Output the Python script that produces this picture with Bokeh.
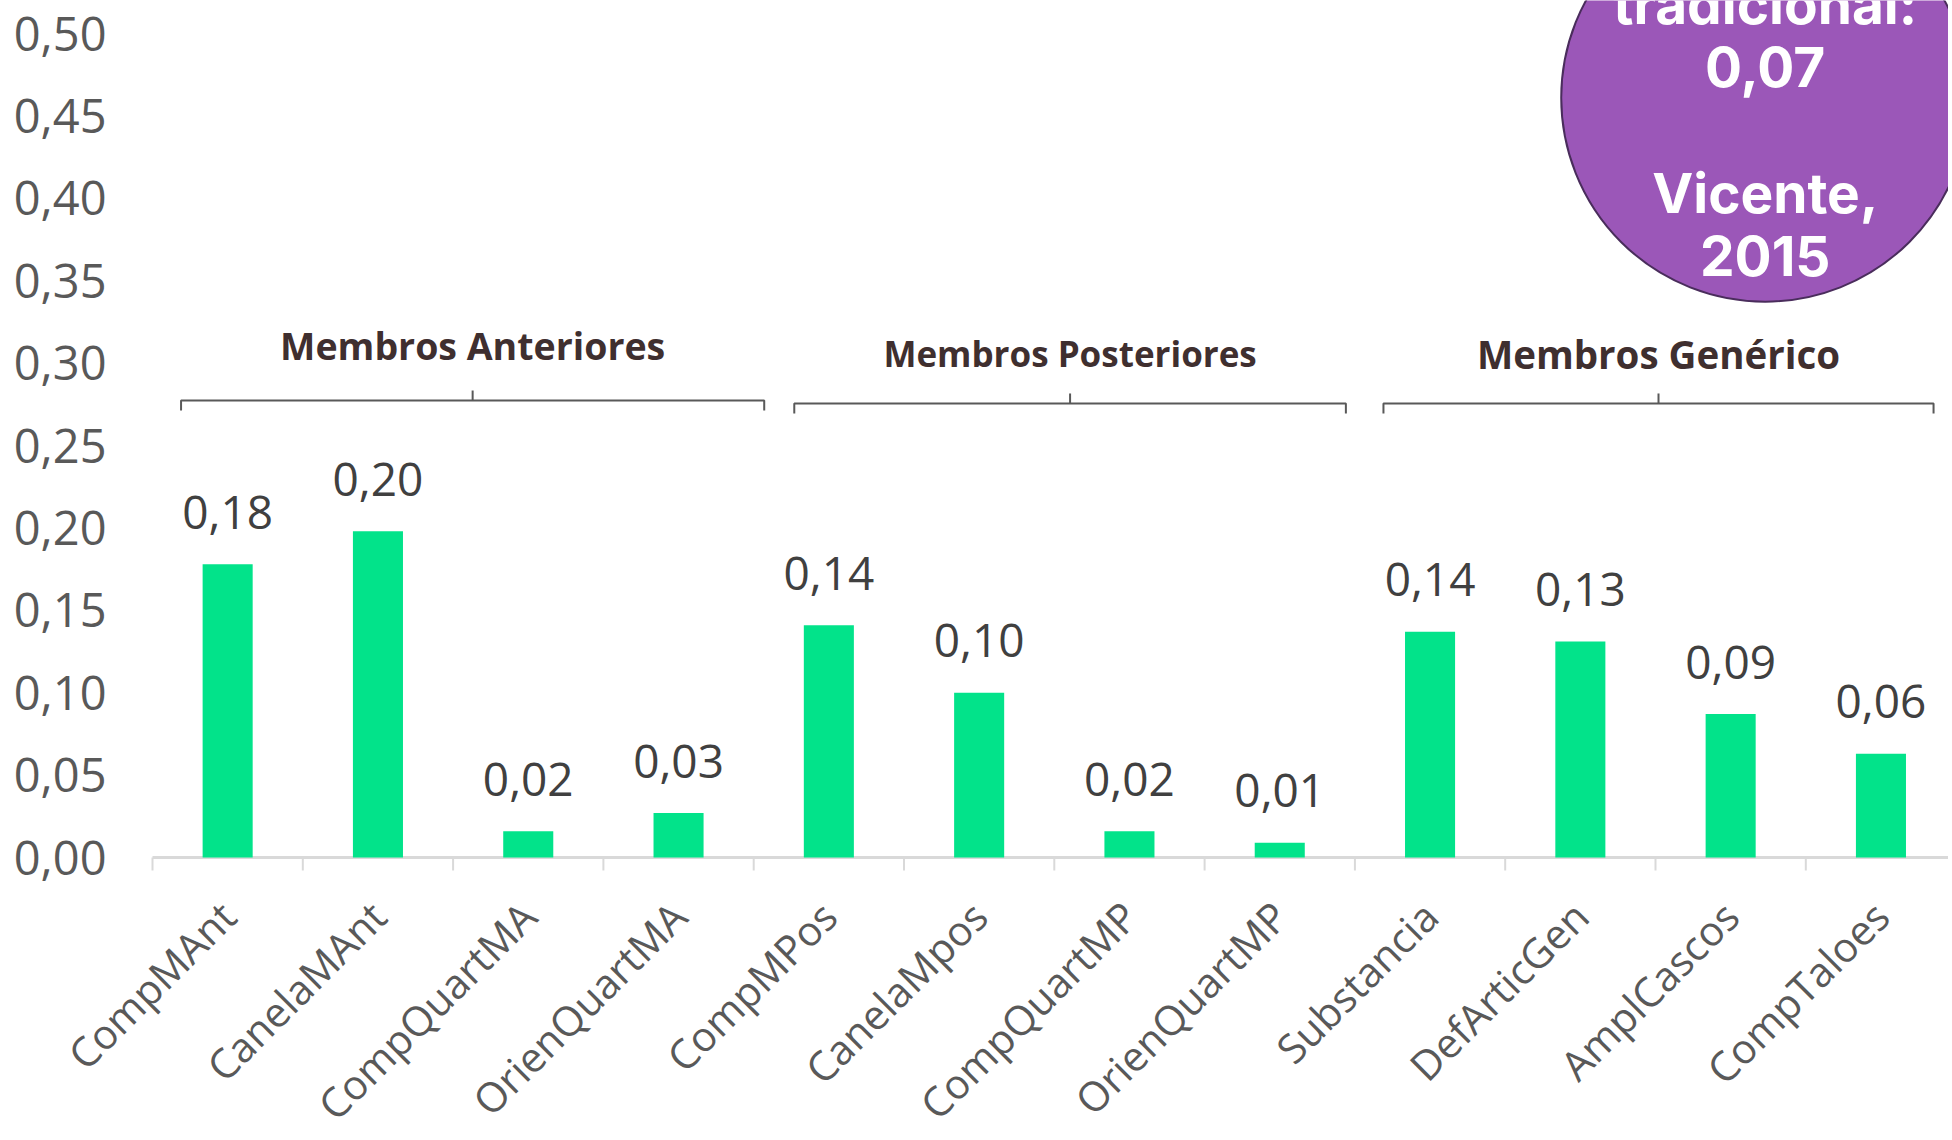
import math
from bokeh.plotting import figure
from bokeh.models import Range1d, ColumnDataSource
from bokeh.core.properties import value
from bokeh.embed import file_html
from bokeh.resources import INLINE

# ---- data ----
categories = ["CompMAnt", "CanelaMAnt", "CompQuartMA", "OrienQuartMA",
              "CompMPos", "CanelaMpos", "CompQuartMP", "OrienQuartMP",
              "Substancia", "DefArticGen", "AmplCascos", "CompTaloes"]
values = [0.178, 0.198, 0.016, 0.027, 0.141, 0.100, 0.016, 0.009,
          0.137, 0.131, 0.087, 0.063]
group_names = ["Membros Anteriores", "Membros Posteriores", "Membros Genérico"]
group_sizes = [4, 4, 4]
y_ticks = [0.00, 0.05, 0.10, 0.15, 0.20, 0.25, 0.30, 0.35, 0.40, 0.45, 0.50]
note_lines = ["tradicional:", "0,07", "", "Vicente,", "2015"]

BAR = "#02e38a"
GRAY = "#595959"
AXIS = "#d9d9d9"

W, H = 1948, 1138
FRAME_BOTTOM = 857          # pixel row of y = 0
PX_PER_UNIT = 1648.0
CAT_PX = 150.3
LEFT = 152                  # pixel column of x = 0

p = figure(width=W, height=H, output_backend="svg", toolbar_location=None,
           x_range=Range1d(-LEFT / CAT_PX, (W - LEFT) / CAT_PX),
           y_range=Range1d(-(H - FRAME_BOTTOM) / PX_PER_UNIT, FRAME_BOTTOM / PX_PER_UNIT),
           min_border_left=0, min_border_right=0, min_border_top=0,
           min_border_bottom=0)
p.outline_line_color = None
p.grid.visible = False
p.background_fill_color = "white"
p.xaxis.visible = False
p.yaxis.visible = False

n = len(categories)
centers = [i + 0.5 for i in range(n)]
bounds = list(range(n + 1))
labels = [("%.2f" % v).replace(".", ",") for v in values]
src = ColumnDataSource(dict(x=centers, top=values, lab=labels,
                            zero=[0] * n, cat=categories))

# baseline axis line and boundary ticks
p.segment(x0=[0], y0=[0], x1=[n], y1=[0], line_color=AXIS, line_width=3)
p.segment(x0=bounds, y0=[0] * len(bounds), x1=bounds,
          y1=[-13 / PX_PER_UNIT] * len(bounds), line_color=AXIS, line_width=2)

# y tick labels
ysrc = ColumnDataSource(dict(y=y_ticks, x=[0] * len(y_ticks),
                             t=[("%.2f" % v).replace(".", ",") for v in y_ticks]))
p.text(x="x", y="y", text="t", source=ysrc, x_offset=-46,
       text_align="right", text_baseline="middle",
       text_font=value("Open Sans"), text_font_size="47px", text_color=GRAY)

# bars and value labels
p.vbar(x="x", top="top", width=0.333, source=src, fill_color=BAR, line_color=None)
p.text(x="x", y="top", text="lab", source=src, y_offset=-52,
       text_align="center", text_baseline="alphabetic",
       text_font=value("Open Sans"), text_font_size="46px", text_color="#404040")

# rotated category labels
p.text(x="x", y="zero", text="cat", source=src, angle=math.pi / 4,
       x_offset=0, y_offset=51, text_align="right", text_baseline="middle",
       text_font=value("Open Sans"), text_font_size="41px", text_color=GRAY)

# group brackets
hook = 10 / PX_PER_UNIT
left_inset = [0.19, 0.27, 0.19]
right_inset = [-0.07, 0.06, 0.15]
bracket_y = [0.2773, 0.2755, 0.2755]
text_y = [0.3105, 0.3058, 0.3058]
group_font = ["37.5px", "35px", "38.5px"]
bx, by = [], []
gx, gy, gt = [], [], []
start = 0
for i, (name, size) in enumerate(zip(group_names, group_sizes)):
    x0 = start + left_inset[i]
    x1 = start + size - right_inset[i]
    xm = (x0 + x1) / 2
    yb = bracket_y[i]
    bx.append([x0, x0, x1, x1]); by.append([yb - hook, yb, yb, yb - hook])
    bx.append([xm, xm]); by.append([yb, yb + hook])
    gx.append(xm); gy.append(text_y[i]); gt.append(name)
    start += size
p.multi_line(bx, by, line_color=GRAY, line_width=2)
gsrc = ColumnDataSource(dict(x=gx, y=gy, t=gt, fs=group_font))
p.text(x="x", y="y", text="t", source=gsrc, text_font_size="fs",
       text_align="center", text_baseline="alphabetic",
       text_font=value("Open Sans"), text_font_style="bold", text_color="#3f2f2f")

# purple note circle
cx, cy = 10.73, 0.461
p.circle([cx], [cy], radius=204, radius_units="screen",
         fill_color="#9b57b8", line_color="#4a2d5c", line_width=2)
line_h = 63 / PX_PER_UNIT
first_base = 0.5176
ny = [first_base - k * line_h for k in range(len(note_lines))]
p.text([cx] * len(note_lines), ny, text=note_lines, text_align="center",
       text_baseline="alphabetic", text_font=value("Inter"),
       text_font_style="bold", text_font_size="55px", text_color="white")

open("out.html", "w").write(file_html(p, INLINE))
